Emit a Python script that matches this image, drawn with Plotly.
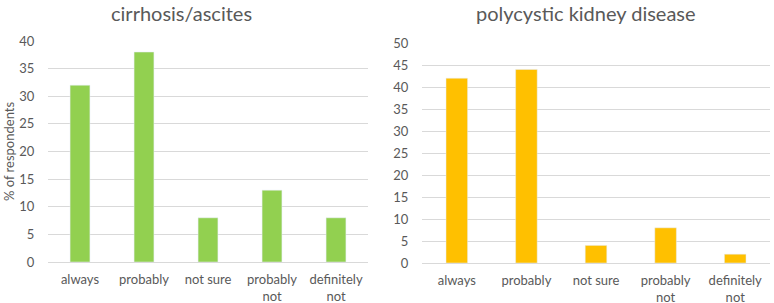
import plotly.graph_objects as go

categories = ["always", "probably", "not sure", "probably<br>not", "definitely<br>not"]
cirrhosis_values = [32, 38, 8, 13, 8]
pkd_values = [42, 44, 4, 8, 2]
left_title = "cirrhosis/ascites"
right_title = "polycystic kidney disease"
y_title = "% of respondents"

TXT = "#595959"
GRID = "#D9D9D9"
FONT = "Lato, Open Sans, sans-serif"

fig = go.Figure()
fig.add_trace(go.Bar(x=categories, y=cirrhosis_values, marker_color="#92D050",
                     width=0.31, xaxis="x", yaxis="y", showlegend=False))
fig.add_trace(go.Bar(x=categories, y=pkd_values, marker_color="#FFC000",
                     width=0.31, xaxis="x2", yaxis="y2", showlegend=False))

W, H = 774, 303
def px_x(a, b):
    return [a / W, b / W]
def px_y(top, bottom):
    return [1 - bottom / H, 1 - top / H]

axis_common = dict(showline=False, zeroline=False, ticks="outside", ticklen=5,
                   tickcolor="rgba(0,0,0,0)", showgrid=False, automargin=False,
                   tickfont=dict(size=13, color=TXT, family=FONT))
yaxis_common = dict(showline=False, ticks="outside", ticklen=10,
                    tickcolor="rgba(0,0,0,0)", showgrid=True, automargin=False,
                    gridcolor=GRID, gridwidth=1, dtick=5,
                    zeroline=True, zerolinecolor=GRID, zerolinewidth=1,
                    tickfont=dict(size=13, color=TXT, family=FONT))

fig.update_layout(
    width=W, height=H,
    margin=dict(l=0, r=0, t=0, b=0),
    paper_bgcolor="white", plot_bgcolor="white",
    font=dict(family=FONT, color=TXT),
    xaxis=dict(domain=px_x(48, 368), anchor="y", **axis_common),
    yaxis=dict(domain=px_y(41, 262), range=[0, 40], anchor="x", **yaxis_common),
    xaxis2=dict(domain=px_x(422, 770), anchor="y2", **axis_common),
    yaxis2=dict(domain=px_y(43, 263), range=[0, 50], anchor="x2", **yaxis_common),
    annotations=[
        dict(text=left_title, x=181 / W, y=1 - 13 / H, xref="paper", yref="paper",
             showarrow=False, font=dict(size=20, color=TXT, family=FONT),
             xanchor="center", yanchor="middle"),
        dict(text=right_title, x=586 / W, y=1 - 13 / H, xref="paper", yref="paper",
             showarrow=False, font=dict(size=20, color=TXT, family=FONT),
             xanchor="center", yanchor="middle"),
        dict(text=y_title, x=9 / W, y=1 - 152 / H, xref="paper", yref="paper",
             showarrow=False, textangle=-90, font=dict(size=13, color=TXT, family=FONT),
             xanchor="center", yanchor="middle"),
    ],
)

fig.write_html("out.html", config={"displayModeBar": False},
               post_script="document.body.style.margin='0';document.body.style.padding='0';")
